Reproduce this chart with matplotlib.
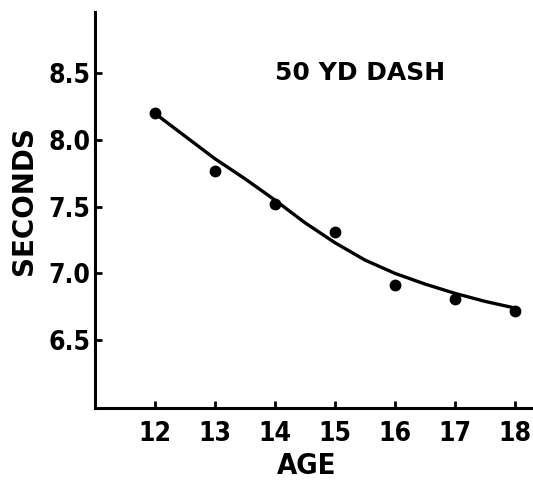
import matplotlib
matplotlib.use("Agg")
import matplotlib.pyplot as plt

# --- Data ---
ages = [12, 13, 14, 15, 16, 17, 18]
seconds = [8.20, 7.77, 7.52, 7.31, 6.91, 6.81, 6.72]

# hand-drawn smoothed curve, read at half-year steps
curve_age = [12, 12.5, 13, 13.5, 14, 14.5, 15, 15.5, 16, 16.5, 17, 17.5, 18]
curve_sec = [8.20, 8.03, 7.86, 7.71, 7.55, 7.38, 7.23, 7.10, 7.00, 6.92, 6.85, 6.79, 6.74]

yticks = [6.5, 7.0, 7.5, 8.0, 8.5]
ytick_labels = ["6.5", "7.0", "7.5", "8.0", "8.5"]

plt.rcParams["font.family"] = ["DejaVu Sans"]
plt.rcParams["font.weight"] = "bold"
plt.rcParams["font.stretch"] = "condensed"

fig = plt.figure(figsize=(5.33, 4.84), dpi=100)
ax = fig.add_axes([0.178, 0.157, 0.822, 0.818])

ax.plot(curve_age, curve_sec, color="black", lw=2.4, solid_capstyle="round")
ax.plot(ages, seconds, "o", color="black", ms=7.5)

ax.set_xlim(11.0, 18.3)
ax.set_ylim(5.99, 8.96)

ax.set_xticks(ages)
ax.set_xticklabels([str(a) for a in ages])
ax.set_yticks(yticks)
ax.set_yticklabels(ytick_labels)
ax.tick_params(direction="in", length=5, width=2, labelsize=19, pad=3)
ax.tick_params(axis="x", pad=9)

for s in ["top", "right"]:
    ax.spines[s].set_visible(False)
for s in ["left", "bottom"]:
    ax.spines[s].set_linewidth(2.2)

ax.set_xlabel("AGE", fontsize=21, fontweight="bold")
ax.xaxis.set_label_coords(0.484, -0.112)
ax.set_ylabel("SECONDS", fontsize=20, fontweight="bold", fontstretch="normal")
ax.yaxis.set_label_coords(-0.13, 0.523)
ax.text(15.42, 8.5, "50 YD DASH", fontsize=18, fontweight="bold",
        fontstretch="normal", ha="center", va="center")

fig.savefig("out.png", dpi=100)
